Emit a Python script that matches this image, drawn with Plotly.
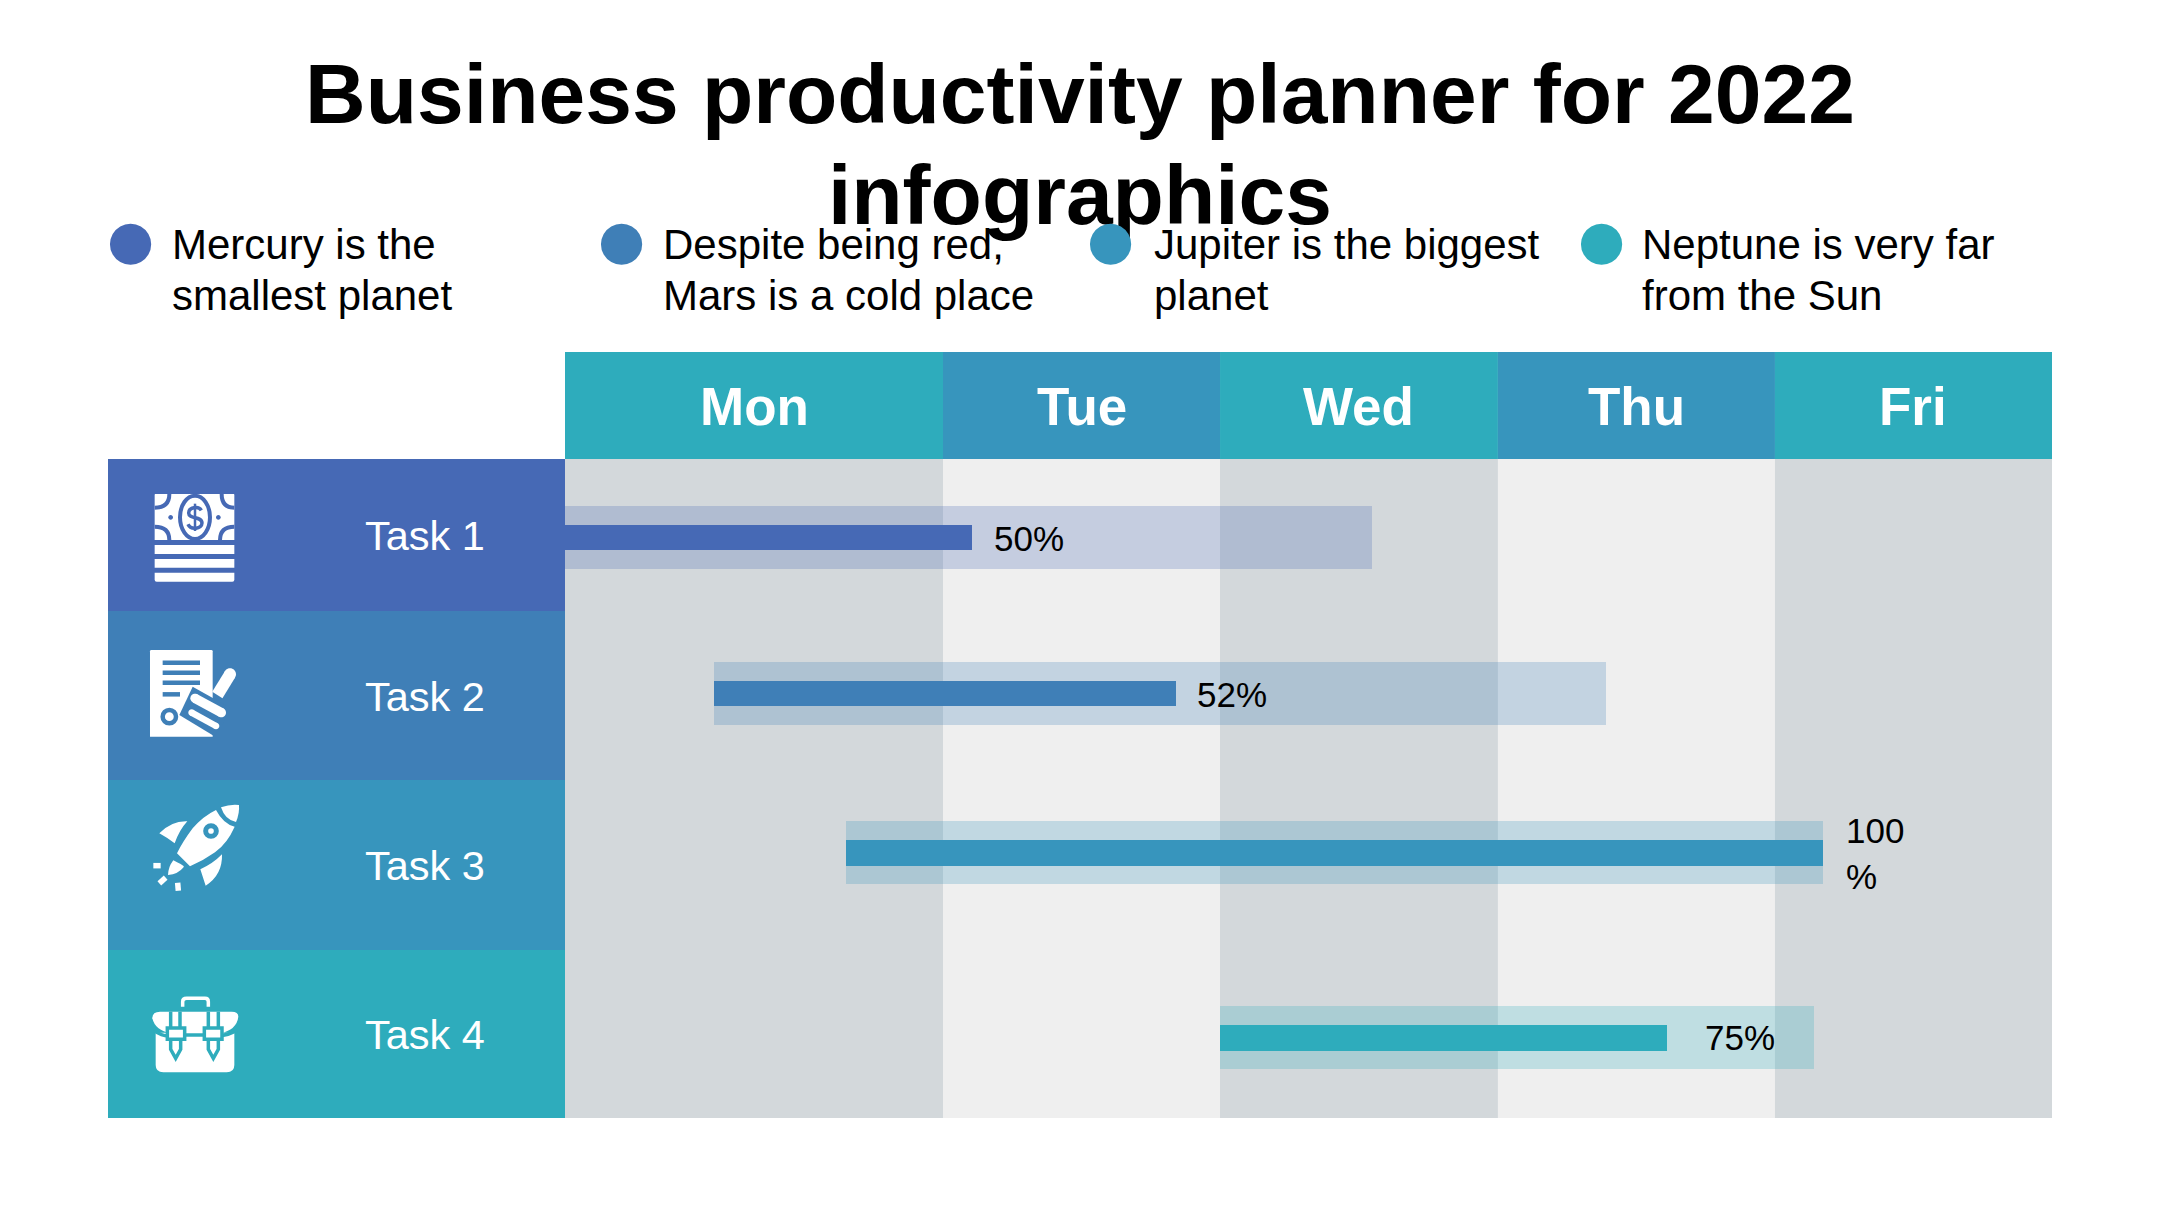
import re
import plotly.graph_objects as go

# ---------- data ----------
TITLE_LINES = ["Business productivity planner for 2022", "infographics"]
DAYS = ["Mon", "Tue", "Wed", "Thu", "Fri"]
# share of the working week (0-100) at which each day column starts / ends
DAY_EDGES = [0, 25.42, 44.05, 62.74, 81.37, 100]
TASKS = ["Task 1", "Task 2", "Task 3", "Task 4"]
PLAN_START = [0, 10.0, 18.9, 44.05]
PLAN_END = [54.3, 70.0, 84.6, 84.0]
PROGRESS_END = [27.4, 41.1, 84.6, 74.1]
PROGRESS_LABELS = ["50%", "52%", "100<br>%", "75%"]
LEGEND_TEXT = [
    ["Mercury is the", "smallest planet"],
    ["Despite being red,", "Mars is a cold place"],
    ["Jupiter is the biggest", "planet"],
    ["Neptune is very far", "from the Sun"],
]

# ---------- styling ----------
FONT = "Liberation Sans"
W, H = 2160, 1215
L, R, T, B = 565, 2052, 459, 1118
ROW_COLORS = ["#4669B5", "#3F7FB7", "#3795BD", "#2EACBC"]
ROW_EDGES = [0, 152, 321, 491, 659]
BAR_CENTERS = [78.6, 234.5, 393.8, 578.8]
PLAN_RGBA = ["rgba(70,105,181,0.25)", "rgba(63,127,183,0.25)", "rgba(55,149,189,0.25)", "rgba(46,172,188,0.25)"]
HEADER_COLORS = ["#2EACBC", "#3795BD", "#2EACBC", "#3795BD", "#2EACBC"]
BAND_COLORS = ["#D3D8DB", "#EFEFEF", "#D3D8DB", "#EFEFEF", "#D3D8DB"]
LABEL_SHIFT = [20, 18.5, 21, 36.5]
LABEL_Y = [79.5, 235.5, 394.5, 578.5]
TASK_LABEL_Y = [76.5, 237, 406, 575]
LEGEND_DOT_X = [130, 621, 1110, 1601.5]
LEGEND_TEXT_X = [170, 660.5, 1151.5, 1640]


def px(x):
    return (x - L) / (R - L)


def py(y):
    return (B - y) / (B - T)


def icon_path(cmds, ox, oy):
    """Icon outline given in 1/3 px around an origin, mapped to paper coordinates."""
    toks = re.findall(r"[A-Za-z]|-?\d+\.?\d*", cmds)
    out, nums = [], []
    for t in toks:
        if t.isalpha():
            out.append(t)
        else:
            nums.append(float(t))
            if len(nums) == 2:
                out.append(f"{px(ox + nums[0] / 3):.5f},{py(oy + nums[1] / 3):.5f}")
                nums = []
    return " ".join(out)


def ellipse(cx, cy, rx, ry):
    k = 0.5523
    return (f"M{cx-rx} {cy} C{cx-rx} {cy-k*ry} {cx-k*rx} {cy-ry} {cx} {cy-ry} "
            f"C{cx+k*rx} {cy-ry} {cx+rx} {cy-k*ry} {cx+rx} {cy} "
            f"C{cx+rx} {cy+k*ry} {cx+k*rx} {cy+ry} {cx} {cy+ry} "
            f"C{cx-k*rx} {cy+ry} {cx-rx} {cy+k*ry} {cx-rx} {cy} Z")


def solid(cmds, ox, oy, fill="white"):
    return dict(type="path", xref="paper", yref="paper", path=icon_path(cmds, ox, oy),
                fillcolor=fill, line=dict(width=0), layer="above")


def stroke(cmds, ox, oy, color, width, fill="rgba(0,0,0,0)"):
    return dict(type="path", xref="paper", yref="paper", path=icon_path(cmds, ox, oy),
                fillcolor=fill, line=dict(color=color, width=width), layer="above")


shapes = []
# day columns and header cells
for i, d in enumerate(DAYS):
    shapes.append(dict(type="rect", xref="x", yref="paper", x0=DAY_EDGES[i], x1=DAY_EDGES[i + 1],
                       y0=0, y1=1, fillcolor=BAND_COLORS[i], line=dict(width=0), layer="below"))
    shapes.append(dict(type="rect", xref="x", yref="paper", x0=DAY_EDGES[i], x1=DAY_EDGES[i + 1],
                       y0=1, y1=py(352), fillcolor=HEADER_COLORS[i], line=dict(width=0), layer="below"))
# task rows on the left
for i in range(4):
    shapes.append(dict(type="rect", xref="paper", yref="y", x0=px(108), x1=0,
                       y0=ROW_EDGES[i], y1=ROW_EDGES[i + 1], fillcolor=ROW_COLORS[i],
                       line=dict(width=0), layer="below"))

# icon 1: banknotes
o = (140, 485)
c = ROW_COLORS[0]
shapes += [
    solid("M46 27 L281 27 Q283 27 283 30 L283 165 L44 165 L44 30 Q44 27 46 27 Z", *o),
    solid("M44 180 L283 180 L283 207 L44 207 Z", *o),
    solid("M44 222 L283 222 L283 248 L44 248 Z", *o),
    solid("M44 263 L283 263 L283 284 Q283 290 277 290 L50 290 Q44 290 44 284 Z", *o),
    stroke(ellipse(165, 97, 45, 65), *o, c, 4),
    stroke("M44 68 Q88 68 88 27", *o, c, 4),
    stroke("M44 125 Q88 125 88 165", *o, c, 4),
    stroke("M283 68 Q245 68 245 27", *o, c, 4),
    stroke("M283 125 Q240 125 240 165", *o, c, 4),
    solid(ellipse(92, 97, 7, 7), *o, c),
    solid(ellipse(235, 97, 7, 7), *o, c),
    stroke("M184 76 C176 62 146 66 146 84 C146 104 186 92 186 114 C186 132 152 136 144 118", *o, c, 3.5),
    stroke("M165 56 L165 138", *o, c, 2.5),
]
# icon 2: document and brush
o = (140, 640)
c = ROW_COLORS[1]
shapes += [
    solid("M34 30 L214 30 Q218 30 218 34 L218 290 L30 290 L30 34 Q30 30 34 30 Z", *o),
    stroke("M68 68 L180 68", *o, c, 4.5),
    stroke("M68 98 L180 98", *o, c, 4.5),
    stroke("M68 128 L180 128", *o, c, 4.5),
    stroke("M68 163 L120 163", *o, c, 4.5),
    stroke(ellipse(88, 230, 20, 20), *o, c, 4.5),
    solid("M158 140 L268 202 L250 250 L222 288 L118 225 Z", *o, c),
    stroke("M270 103 L232 165", *o, "white", 12),
    solid(ellipse(270, 103, 18, 18), *o),
    stroke("M165 175 L244 218", *o, "white", 9.5),
    solid(ellipse(165, 175, 14, 14), *o),
    solid(ellipse(244, 218, 14, 14), *o),
    stroke("M155 218 L228 258", *o, "white", 6.5),
    solid(ellipse(155, 218, 10, 10), *o),
    solid(ellipse(228, 258, 10, 10), *o),
]
# icon 3: rocket
o = (140, 800)
shapes += [
    solid("M243 22 Q270 12 297 15 Q299 40 288 66 Q255 60 243 22 Z", *o),
    solid("M228 30 Q250 72 284 80 Q262 130 225 157 Q190 182 150 199 L111 160 Q128 125 158 85 Q190 48 228 30 Z", *o),
    stroke(ellipse(213, 93, 16, 16), *o, ROW_COLORS[2], 5, "white"),
    solid("M142 64 Q95 62 58 100 Q85 115 104 130 Q118 90 142 64 Z", *o),
    solid("M246 163 Q248 225 197 257 Q188 230 181 208 Q220 190 246 163 Z", *o),
    solid("M100 181 Q125 193 132 200 Q115 222 84 225 Q85 200 100 181 Z", *o),
    stroke("M40 197 L62 197", *o, "white", 5.5),
    stroke("M58 250 L77 233", *o, "white", 5.5),
    stroke("M113 248 L115 272", *o, "white", 5.5),
]
# icon 4: briefcase
o = (140, 990)
c = ROW_COLORS[3]
shapes += [
    stroke("M128 50 L128 35 Q128 25 140 25 L195 25 Q205 25 205 35 L205 50", *o, "white", 3.5),
    solid("M37 85 Q37 65 60 65 L275 65 Q295 65 295 80 Q290 120 240 130 L90 130 Q45 120 37 85 Z", *o),
    solid("M47 128 L283 128 L283 225 Q283 247 260 247 L70 247 Q47 247 47 225 Z", *o),
    stroke("M42 122 Q65 138 85 138", *o, c, 3.5),
    stroke("M130 135 L195 135", *o, c, 3.5),
    stroke("M240 138 Q265 135 290 122", *o, c, 3.5),
    stroke("M92 65 L92 112", *o, c, 3.5),
    stroke("M120 65 L120 112", *o, c, 3.5),
    stroke("M205 65 L205 112", *o, c, 3.5),
    stroke("M235 65 L235 112", *o, c, 3.5),
    stroke("M92 150 L92 178 L107 205 L122 178 L122 150", *o, c, 3.5, "white"),
    stroke("M205 150 L205 178 L220 205 L235 178 L235 150", *o, c, 3.5, "white"),
    stroke("M82 114 L134 114 L134 148 L82 148 Z", *o, c, 3.5, "white"),
    stroke("M193 114 L246 114 L246 148 L193 148 Z", *o, c, 3.5, "white"),
]

fig = go.Figure()
fig.add_trace(go.Bar(
    orientation="h", y=BAR_CENTERS, base=PLAN_START,
    x=[e - s for s, e in zip(PLAN_START, PLAN_END)],
    width=62.7, marker=dict(color=PLAN_RGBA, line=dict(width=0)), name="Planned", showlegend=False,
))
fig.add_trace(go.Bar(
    orientation="h", y=BAR_CENTERS, base=PLAN_START,
    x=[e - s for s, e in zip(PLAN_START, PROGRESS_END)],
    width=25.5, marker=dict(color=ROW_COLORS, line=dict(width=0)), name="Progress", showlegend=False,
))

ann = []
# header day names
for i, d in enumerate(DAYS):
    ann.append(dict(xref="x", yref="paper", x=(DAY_EDGES[i] + DAY_EDGES[i + 1]) / 2, y=py(406),
                    text=d, showarrow=False, xanchor="center", yanchor="middle",
                    font=dict(family=FONT, size=53, color="white", weight=700)))
# task names
for i, t in enumerate(TASKS):
    ann.append(dict(xref="paper", yref="y", x=px(362.5), y=TASK_LABEL_Y[i], text=t, showarrow=False,
                    xanchor="left", yanchor="middle", font=dict(family=FONT, size=41.5, color="white")))
# progress labels
for i, t in enumerate(PROGRESS_LABELS):
    ann.append(dict(xref="x", yref="y", x=PROGRESS_END[i], y=LABEL_Y[i], text=t, showarrow=False,
                    xshift=LABEL_SHIFT[i], xanchor="left", yanchor="middle", align="left",
                    font=dict(family=FONT, size=35, color="black")))
# legend
for i, lines in enumerate(LEGEND_TEXT):
    ann.append(dict(xref="paper", yref="paper", x=px(LEGEND_DOT_X[i]), y=py(240), text="\u25cf",
                    showarrow=False, xanchor="center", yanchor="middle",
                    font=dict(family="DejaVu Sans", size=54, color=ROW_COLORS[i])))
    txt = "<br>".join(f'<span style="font-size:42px">{ln}</span>' for ln in lines)
    ann.append(dict(xref="paper", yref="paper", x=px(LEGEND_TEXT_X[i]), y=py(269.6), text=txt,
                    showarrow=False, xanchor="left", yanchor="middle", align="left",
                    font=dict(family=FONT, size=39.5, color="black")))

title = "<br>".join(f'<span style="font-size:84px">{ln}</span>' for ln in TITLE_LINES)
fig.update_layout(
    width=W, height=H,
    margin=dict(l=L, r=W - R, t=T, b=H - B, pad=0),
    paper_bgcolor="white", plot_bgcolor="rgba(0,0,0,0)",
    barmode="overlay", bargap=0, showlegend=False,
    title=dict(text=title, x=1080 / W, xanchor="center", xref="container",
               y=1 - 123 / H, yanchor="top", font=dict(family=FONT, size=78, color="black", weight=700)),
    xaxis=dict(range=[0, 100], visible=False, fixedrange=True),
    yaxis=dict(range=[659, 0], visible=False, fixedrange=True),
    shapes=shapes, annotations=ann,
)
fig.write_html("out.html", post_script="document.body.style.margin='0';document.body.style.overflow='hidden';",
               config=dict(displayModeBar=False, responsive=False))
